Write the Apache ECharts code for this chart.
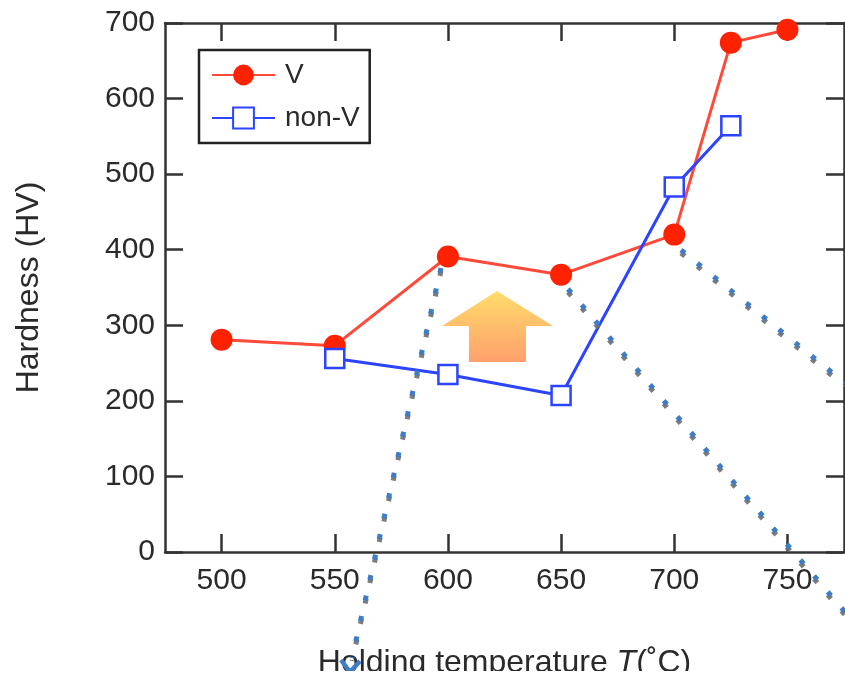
<!DOCTYPE html>
<html>
<head>
<meta charset="utf-8">
<script src="https://cdn.jsdelivr.net/npm/echarts@6/dist/echarts.min.js"></script>
<style>
html,body{margin:0;padding:0;background:#fff;}
#chart{width:845px;height:674px;}
</style>
</head>
<body>
<div id="chart"></div>
<script>
// ---- data ----
const tempsV = [500, 550, 600, 650, 700, 725, 750];
const hardnessV = [281, 273, 391, 367, 420, 674, 691];
const tempsNonV = [550, 600, 650, 700, 725];
const hardnessNonV = [256, 235, 207, 483, 564];
const xTicks = [500, 550, 600, 650, 700, 750];
const yTicks = [0, 100, 200, 300, 400, 500, 600, 700];
const seriesNames = ['V', 'non-V'];

const FONT = '"Liberation Sans", Arial, Helvetica, sans-serif';
const AX = '#333';
const TXT = '#2a2a2a';

const chart = echarts.init(document.getElementById('chart'), null, {renderer: 'canvas'});

function dotted(points) {
  return {
    type: 'polyline', z: 100,
    shape: {points: points},
    style: {
      stroke: '#3F7CC6', lineWidth: 5, lineDash: [5, 16], fill: null,
      shadowColor: 'rgba(110,110,110,0.9)', shadowOffsetY: 3, shadowOffsetX: 0, shadowBlur: 0
    }
  };
}

const option = {
  animation: false,
  backgroundColor: '#fff',
  textStyle: {fontFamily: FONT},
  grid: {left: 165, right: 1, top: 23, bottom: 122, containLabel: false, outerBoundsMode: 'none'},
  legend: {
    left: 199, top: 50, orient: 'vertical',
    data: seriesNames,
    backgroundColor: '#fff',
    borderColor: '#222', borderWidth: 2.5, borderRadius: 0,
    padding: [11, 10, 11, 12],
    itemWidth: 63, itemHeight: 26, itemGap: 15,
    textStyle: {fontSize: 28, color: TXT, fontFamily: FONT, padding: [0, 0, 0, 5]}
  },
  xAxis: [{
    type: 'value', min: 475, max: 775,
    name: 'Holding temperature {i|T}(˚C)',
    nameLocation: 'middle', nameGap: 95,
    nameTextStyle: {fontSize: 32, color: TXT, fontFamily: FONT,
      rich: {i: {fontSize: 32, fontStyle: 'italic', color: TXT, fontFamily: FONT}}},
    axisLine: {show: true, onZero: false, lineStyle: {color: AX, width: 2.5}},
    axisTick: {show: true, inside: true, length: 18, customValues: xTicks, lineStyle: {color: AX, width: 2.5}},
    axisLabel: {show: true, customValues: xTicks, fontSize: 30, color: TXT, margin: 14, fontFamily: FONT},
    splitLine: {show: false}
  }, {
    type: 'value', min: 475, max: 775, position: 'top',
    axisLine: {show: true, onZero: false, lineStyle: {color: AX, width: 2.5}},
    axisTick: {show: true, inside: true, length: 18, customValues: xTicks, lineStyle: {color: AX, width: 2.5}},
    axisLabel: {show: false},
    splitLine: {show: false}
  }],
  yAxis: [{
    type: 'value', min: 0, max: 700, interval: 100,
    name: 'Hardness (HV)', nameLocation: 'middle', nameGap: 120, nameRotate: 90,
    nameTextStyle: {fontSize: 32, color: TXT, fontFamily: FONT},
    axisLine: {show: true, onZero: false, lineStyle: {color: AX, width: 2.5}},
    axisTick: {show: true, inside: true, length: 18, lineStyle: {color: AX, width: 2.5}},
    axisLabel: {show: true, fontSize: 30, color: TXT, margin: 10, fontFamily: FONT,
      formatter: v => yTicks.indexOf(v) >= 0 ? String(v) : ''},
    splitLine: {show: false}
  }, {
    type: 'value', min: 0, max: 700, interval: 100, position: 'right',
    axisLine: {show: true, onZero: false, lineStyle: {color: AX, width: 2.5}},
    axisTick: {show: true, inside: true, length: 18, lineStyle: {color: AX, width: 2.5}},
    axisLabel: {show: false},
    splitLine: {show: false}
  }],
  series: [{
    name: seriesNames[0], type: 'line', xAxisIndex: 0, yAxisIndex: 0,
    data: tempsV.map((t, i) => [t, hardnessV[i]]),
    symbol: 'circle', symbolSize: 22,
    lineStyle: {color: '#FF4A3A', width: 3},
    itemStyle: {color: '#FF2200'},
    z: 3
  }, {
    name: seriesNames[1], type: 'line', xAxisIndex: 0, yAxisIndex: 0,
    data: tempsNonV.map((t, i) => [t, hardnessNonV[i]]),
    symbol: 'rect', symbolSize: 19,
    lineStyle: {color: '#2C44FF', width: 3},
    itemStyle: {color: '#fff', borderColor: '#2C44FF', borderWidth: 2.5},
    z: 4
  }],
  graphic: [
    {
      type: 'polygon', z: 50,
      shape: {points: [[497, 291], [553, 326], [526, 326], [526, 362], [469, 362], [469, 326], [442, 326]]},
      style: {
        fill: new echarts.graphic.LinearGradient(0, 0, 0, 1, [
          {offset: 0, color: '#FFDC6C'},
          {offset: 1, color: '#FFA06C'}
        ])
      }
    },
    dotted([[441, 268], [352, 658]]),
    dotted([[568, 289], [845, 612]]),
    dotted([[681, 250], [845, 383]]),
    {
      type: 'polyline', z: 101,
      shape: {points: [[341, 660], [350, 672], [360, 661]]},
      style: {stroke: '#3F7CC6', lineWidth: 4.5, fill: null}
    },
    {
      type: 'rect', z: 120,
      shape: {x: 0, y: 671, width: 845, height: 3},
      style: {fill: '#fff'}
    }
  ]
};
chart.setOption(option);
</script>
</body>
</html>
